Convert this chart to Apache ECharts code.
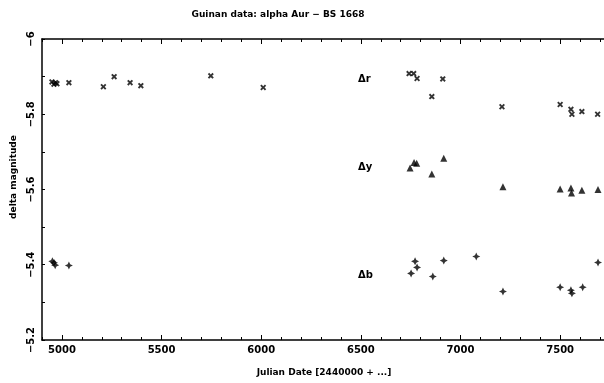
<!DOCTYPE html>
<html>
<head>
<meta charset="utf-8">
<script src="https://cdn.jsdelivr.net/npm/echarts@6/dist/echarts.min.js"></script>
<style>html,body{margin:0;padding:0;background:#fff}#c{width:604px;height:383px}</style>
</head>
<body>
<div id="c"></div>
<script>
// Δr points [JD - 2440000, delta mag]
const deltaR = [
  [4950,-5.886],[4960,-5.880],[4968,-5.884],[4975,-5.881],[5035,-5.884],
  [5208,-5.873],[5262,-5.900],[5342,-5.884],[5396,-5.876],[5747,-5.902],
  [6010,-5.871],[6742,-5.908],[6765,-5.908],[6782,-5.895],[6911,-5.894],
  [6856,-5.847],[7208,-5.820],[7500,-5.826],[7554,-5.813],[7559,-5.800],
  [7609,-5.807],[7688,-5.800]
];
// Δy points
const deltaY = [
  [6747,-5.657],[6767,-5.672],[6780,-5.670],[6916,-5.683],[6856,-5.641],
  [7213,-5.607],[7500,-5.601],[7554,-5.604],[7557,-5.591],[7609,-5.598],
  [7690,-5.600]
];
// Δb points
const deltaB = [
  [4952,-5.409],[4960,-5.405],[4966,-5.399],[5035,-5.398],
  [6752,-5.377],[6772,-5.409],[6782,-5.393],[6861,-5.369],[6916,-5.411],
  [7079,-5.422],[7213,-5.329],[7500,-5.340],[7554,-5.332],[7559,-5.324],
  [7613,-5.340],[7690,-5.406]
];
const xMajorTicks = [5000,5500,6000,6500,7000,7500];
const seriesLabels = ['Δr','Δy','Δb'];

const FONT = 'DejaVu Sans';
const symX = 'path://M0,2.2L2.2,0L5,2.8L7.8,0L10,2.2L7.2,5L10,7.8L7.8,10L5,7.2L2.2,10L0,7.8L2.8,5Z';
const symStar = 'path://M5,0L6.6,3.4L10,5L6.6,6.6L5,10L3.4,6.6L0,5L3.4,3.4Z';
const lineStyle = {color:'#000', width:1.5};
const XMIN = 4900, XMAX = 7720;

const chart = echarts.init(document.getElementById('c'), null, {renderer:'canvas'});
function minorXAxis(pos, showLabel){
  return {
    type:'value', position:pos, min:XMIN, max:XMAX, interval:100,
    axisLine:{show:true, onZero:false, lineStyle},
    splitLine:{show:false},
    axisTick:{show:true, inside:true, length:3, lineStyle:{color:'#000', width:1}},
    axisLabel:{show:showLabel, margin:5, color:'#000', fontFamily:FONT, fontSize:10, fontWeight:'bold', showMaxLabel:false,
      formatter: v => (Math.round(v) % 500 === 0 && Math.round(v) >= 5000) ? String(Math.round(v)) : ''}
  };
}
function majorXAxis(pos){
  return {
    type:'value', position:pos, min:XMIN, max:XMAX,
    axisLine:{show:false}, splitLine:{show:false}, axisLabel:{show:false},
    axisTick:{show:true, inside:true, length:5, customValues:xMajorTicks, lineStyle:{color:'#000', width:1}}
  };
}
const option = {
  animation:false,
  backgroundColor:'#fff',
  grid:{left:42, top:39, width:570, height:301, containLabel:false},
  xAxis:[minorXAxis('bottom', true), majorXAxis('bottom'), minorXAxis('top', false), majorXAxis('top')],
  yAxis:[{
    type:'value', min:-6, max:-5.2, interval:0.1, inverse:true,
    axisLine:{show:true, onZero:false, lineStyle},
    splitLine:{show:false},
    axisTick:{show:true, inside:true, length:3, lineStyle:{color:'#000', width:1}},
    axisLabel:{rotate:90, margin:6, color:'#000', fontFamily:FONT, fontSize:10, fontWeight:'bold',
      formatter: v => { const k = Math.round(v*10); if (k % 2 !== 0) return ''; const s = (k/10).toString(); return s.replace('-', '\u2212'); }}
  }],
  series:[
    {type:'scatter', name:seriesLabels[0], data:deltaR, symbol:symX, symbolSize:6, itemStyle:{color:'#000'}},
    {type:'scatter', name:seriesLabels[1], data:deltaY, symbol:'triangle', symbolSize:7, itemStyle:{color:'#000'}},
    {type:'scatter', name:seriesLabels[2], data:deltaB, symbol:symStar, symbolSize:8, itemStyle:{color:'#000'}}
  ],
  graphic:[
    {type:'text', x:278, y:15, style:{text:'Guinan data: alpha Aur \u2212 BS 1668', fill:'#000', font:'bold 9px "DejaVu Sans"', align:'center', verticalAlign:'middle'}},
    {type:'text', x:324, y:373, style:{text:'Julian Date [2440000 + ...]', fill:'#000', font:'bold 9px "DejaVu Sans"', align:'center', verticalAlign:'middle'}},
    {type:'text', x:14, y:177, rotation:Math.PI/2, style:{text:'delta magnitude', fill:'#000', font:'bold 9px "DejaVu Sans"', align:'center', verticalAlign:'middle'}},
    {type:'text', x:358, y:79, style:{text:seriesLabels[0], fill:'#000', font:'bold 10px "DejaVu Sans"', verticalAlign:'middle'}},
    {type:'text', x:358, y:167, style:{text:seriesLabels[1], fill:'#000', font:'bold 10px "DejaVu Sans"', verticalAlign:'middle'}},
    {type:'text', x:358, y:275, style:{text:seriesLabels[2], fill:'#000', font:'bold 10px "DejaVu Sans"', verticalAlign:'middle'}}
  ]
};
chart.setOption(option);
</script>
</body>
</html>
